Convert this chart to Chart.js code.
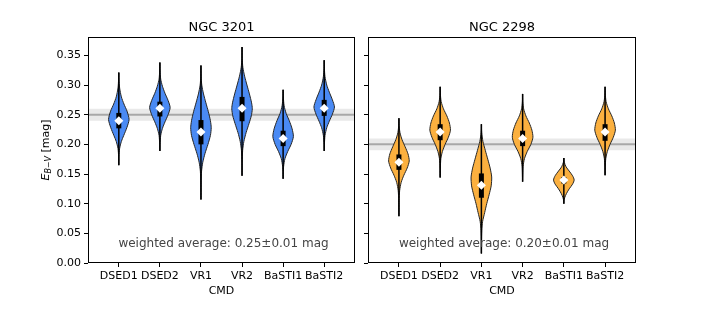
<!DOCTYPE html>
<html>
<head>
<meta charset="utf-8">
<script src="https://cdn.jsdelivr.net/npm/chart.js@4.4.1/dist/chart.umd.min.js"></script>
<style>
  html, body { margin: 0; padding: 0; background: #fff; }
  #wrap { position: relative; width: 706px; height: 314px; }
  #left { position: absolute; left: 0; top: 0; width: 360px; height: 314px; }
  #right { position: absolute; left: 360px; top: 0; width: 346px; height: 314px; }
</style>
</head>
<body>
<div id="wrap">
  <canvas id="left" width="360" height="314"></canvas>
  <canvas id="right" width="346" height="314"></canvas>
</div>
<script>
Chart.defaults.font.family = "'DejaVu Sans', sans-serif";
Chart.defaults.font.size = 11;
Chart.defaults.color = "#000";

// categories and ticks
const categories = ["DSED1", "DSED2", "VR1", "VR2", "BaSTI1", "BaSTI2"];
const yTickValues = [0, 0.05, 0.10, 0.15, 0.20, 0.25, 0.30, 0.35];

// NGC 3201
const n3201Avg = 0.25;
const n3201Err = 0.01;
const n3201Median = [0.240, 0.261, 0.221, 0.261, 0.210, 0.261];
const n3201Q1 = [0.227, 0.247, 0.200, 0.239, 0.197, 0.248];
const n3201Q3 = [0.253, 0.272, 0.241, 0.280, 0.223, 0.275];
const n3201Min = [0.165, 0.189, 0.107, 0.147, 0.142, 0.189];
const n3201Max = [0.321, 0.338, 0.333, 0.364, 0.292, 0.342];
// violin profiles: [value, relative density], top to bottom
const n3201Shape = [
  [[0.31,0.02],[0.295,0.08],[0.28,0.25],[0.268,0.5],[0.256,0.8],[0.242,1],[0.228,0.78],[0.215,0.48],[0.205,0.25],[0.193,0.08],[0.18,0.02]],
  [[0.325,0.02],[0.31,0.08],[0.298,0.25],[0.286,0.5],[0.274,0.8],[0.262,1],[0.25,0.8],[0.238,0.5],[0.227,0.25],[0.215,0.08],[0.2,0.02]],
  [[0.315,0.02],[0.3,0.08],[0.285,0.25],[0.27,0.48],[0.255,0.72],[0.24,0.92],[0.228,1],[0.215,0.92],[0.2,0.68],[0.185,0.4],[0.17,0.18],[0.155,0.06],[0.135,0.02]],
  [[0.345,0.02],[0.33,0.08],[0.315,0.25],[0.3,0.48],[0.285,0.72],[0.27,0.93],[0.26,1],[0.248,0.9],[0.235,0.68],[0.22,0.4],[0.205,0.18],[0.19,0.06],[0.17,0.02]],
  [[0.28,0.02],[0.265,0.1],[0.252,0.3],[0.24,0.6],[0.226,0.88],[0.213,1],[0.2,0.78],[0.188,0.45],[0.176,0.18],[0.163,0.05],[0.152,0.02]],
  [[0.328,0.02],[0.314,0.08],[0.3,0.25],[0.288,0.5],[0.275,0.8],[0.263,1],[0.251,0.8],[0.239,0.5],[0.228,0.25],[0.215,0.08],[0.2,0.02]]
];

// NGC 2298
const n2298Avg = 0.20;
const n2298Err = 0.01;
const n2298Median = [0.170, 0.221, 0.131, 0.210, 0.140, 0.221];
const n2298Q1 = [0.157, 0.207, 0.110, 0.197, 0.134, 0.206];
const n2298Q3 = [0.183, 0.234, 0.151, 0.223, 0.145, 0.234];
const n2298Min = [0.079, 0.144, 0.016, 0.137, 0.100, 0.148];
const n2298Max = [0.244, 0.297, 0.234, 0.285, 0.177, 0.297];
const n2298Shape = [
  [[0.232,0.02],[0.22,0.1],[0.208,0.3],[0.196,0.6],[0.184,0.88],[0.172,1],[0.16,0.8],[0.148,0.48],[0.136,0.22],[0.122,0.07],[0.105,0.02]],
  [[0.285,0.02],[0.272,0.1],[0.26,0.32],[0.248,0.65],[0.236,0.9],[0.224,1],[0.212,0.8],[0.2,0.48],[0.188,0.22],[0.176,0.07],[0.16,0.02]],
  [[0.22,0.03],[0.205,0.15],[0.19,0.38],[0.175,0.62],[0.16,0.85],[0.145,1],[0.13,0.95],[0.115,0.75],[0.1,0.52],[0.085,0.32],[0.07,0.12],[0.055,0.04],[0.035,0.01]],
  [[0.272,0.02],[0.26,0.1],[0.248,0.32],[0.236,0.65],[0.224,0.9],[0.212,1],[0.2,0.8],[0.188,0.45],[0.176,0.18],[0.163,0.05],[0.15,0.02]],
  [[0.17,0.04],[0.162,0.22],[0.155,0.52],[0.147,0.85],[0.14,1],[0.133,0.85],[0.125,0.52],[0.117,0.25],[0.11,0.08],[0.105,0.02]],
  [[0.285,0.02],[0.272,0.1],[0.26,0.32],[0.248,0.65],[0.236,0.9],[0.224,1],[0.212,0.8],[0.2,0.48],[0.188,0.22],[0.176,0.07],[0.162,0.02]]
];

const xMin = 0.25, xMax = 6.75;
const yMin = 0, yMax = 0.381;
const halfWidth = 0.25;

// closed outline of a violin, left side down then right side up
function outline(pos, lo, hi, shape) {
  const pts = [[hi, 0]].concat(shape, [[lo, 0]]);
  const left = pts.map(([v, w]) => ({ x: pos - w * halfWidth, y: v }));
  const right = pts.slice().reverse().map(([v, w]) => ({ x: pos + w * halfWidth, y: v }));
  return left.concat(right.slice(1));
}

function buildDatasets(color, avg, err, med, q1, q3, lo, hi, shapes) {
  const ds = [];
  ds.push({
    data: [{ x: xMin, y: avg + err }, { x: xMax, y: avg + err }],
    showLine: true, fill: { value: avg - err }, backgroundColor: "#e9e9e9",
    borderWidth: 0, pointRadius: 0, order: 20
  });
  ds.push({
    data: [{ x: xMin, y: avg }, { x: xMax, y: avg }],
    showLine: true, borderColor: "#a8a8a8", borderWidth: 2, pointRadius: 0, order: 19
  });
  categories.forEach((c, i) => {
    const pos = i + 1;
    ds.push({
      data: outline(pos, lo[i], hi[i], shapes[i]),
      showLine: true, fill: "shape", backgroundColor: color,
      borderColor: "#262626", borderWidth: 1, pointRadius: 0, tension: 0.25, order: 10
    });
    ds.push({
      data: [{ x: pos, y: lo[i] }, { x: pos, y: hi[i] }],
      showLine: true, borderColor: "#000", borderWidth: 1.5, pointRadius: 0, order: 5
    });
    ds.push({
      data: [{ x: pos, y: q1[i] }, { x: pos, y: q3[i] }],
      showLine: true, borderColor: "#000", borderWidth: 5, borderCapStyle: "butt", pointRadius: 0, order: 4
    });
  });
  ds.push({
    data: med.map((m, i) => ({ x: i + 1, y: m })),
    pointStyle: "rectRot", pointRadius: 4.5, backgroundColor: "#fff",
    borderColor: "#fff", borderWidth: 0, order: 1
  });
  return ds;
}

const panelDecor = {
  id: "panelDecor",
  afterDatasetsDraw(chart, args, opts) {
    const { ctx, chartArea: a } = chart;
    ctx.save();
    ctx.strokeStyle = "#000";
    ctx.lineWidth = 1;
    const l = Math.round(a.left) + 0.5, r = Math.round(a.right) - 0.5;
    const t = Math.round(a.top) + 0.5, b = Math.round(a.bottom) - 0.5;
    ctx.strokeRect(l, t, r - l, b - t);
    ctx.restore();
  },
  afterDraw(chart, args, opts) {
    const { ctx, chartArea: a } = chart;
    const cx = (a.left + a.right) / 2;
    ctx.save();
    ctx.fillStyle = "#000";
    ctx.textAlign = "center";
    ctx.textBaseline = "alphabetic";
    ctx.font = "13px 'DejaVu Sans'";
    ctx.fillText(opts.title, cx, 31);

    ctx.fillStyle = "#444";
    ctx.font = "12px 'DejaVu Sans'";
    ctx.fillText(opts.note, cx + 2, 247);

    if (opts.yLabel) {
      const parts = [
        { t: "E", f: "italic 11px 'DejaVu Sans'", dy: 0 },
        { t: "B\u2212V", f: "italic 8px 'DejaVu Sans'", dy: 2.5 },
        { t: " [mag]", f: "11px 'DejaVu Sans'", dy: 0 }
      ];
      let total = 0;
      parts.forEach(p => { ctx.font = p.f; p.w = ctx.measureText(p.t).width; total += p.w; });
      ctx.translate(48.5, (a.top + a.bottom) / 2);
      ctx.rotate(-Math.PI / 2);
      ctx.fillStyle = "#000";
      ctx.textAlign = "left";
      let x = -total / 2;
      parts.forEach(p => { ctx.font = p.f; ctx.fillText(p.t, x, p.dy); x += p.w; });
    }
    ctx.restore();
  }
};

function makeChart(id, cfg) {
  return new Chart(document.getElementById(id), {
    type: "scatter",
    data: { datasets: cfg.datasets },
    options: {
      responsive: false,
      animation: false,
      events: [],
      layout: { padding: { left: 0, right: cfg.padRight, top: 37, bottom: 0 } },
      plugins: {
        legend: { display: false },
        tooltip: { enabled: false },
        panelDecor: { title: cfg.title, note: cfg.note, yLabel: cfg.yLabel }
      },
      scales: {
        x: {
          type: "linear", min: xMin, max: xMax,
          afterBuildTicks: s => { s.ticks = categories.map((c, i) => ({ value: i + 1 })); },
          ticks: { autoSkip: false, maxRotation: 0, padding: 3, callback: v => categories[Math.round(v) - 1] },
          grid: { drawOnChartArea: false, drawTicks: true, tickLength: 4, tickColor: "#000" },
          border: { display: false },
          title: { display: true, text: "CMD", font: { size: 11 }, padding: { top: 0, bottom: 16 } },
          afterFit: s => { s.height = 51; }
        },
        y: {
          type: "linear", min: yMin, max: yMax,
          afterBuildTicks: s => { s.ticks = yTickValues.map(v => ({ value: v })); },
          ticks: { padding: 3, callback: v => cfg.yLabel ? v.toFixed(2) : "" },
          grid: { drawOnChartArea: false, drawTicks: true, tickLength: 4, tickColor: "#000" },
          border: { display: false },
          afterFit: s => { s.width = cfg.yWidth; }
        }
      }
    },
    plugins: [panelDecor]
  });
}

makeChart("left", {
  title: "NGC 3201",
  note: "weighted average: 0.25\u00b10.01 mag",
  yLabel: true,
  yWidth: 88,
  padRight: 5,
  datasets: buildDatasets("#4a8af4", n3201Avg, n3201Err, n3201Median, n3201Q1, n3201Q3, n3201Min, n3201Max, n3201Shape)
});

makeChart("right", {
  title: "NGC 2298",
  note: "weighted average: 0.20\u00b10.01 mag",
  yLabel: false,
  yWidth: 8,
  padRight: 70,
  datasets: buildDatasets("#fbb03f", n2298Avg, n2298Err, n2298Median, n2298Q1, n2298Q3, n2298Min, n2298Max, n2298Shape)
});
</script>
</body>
</html>
